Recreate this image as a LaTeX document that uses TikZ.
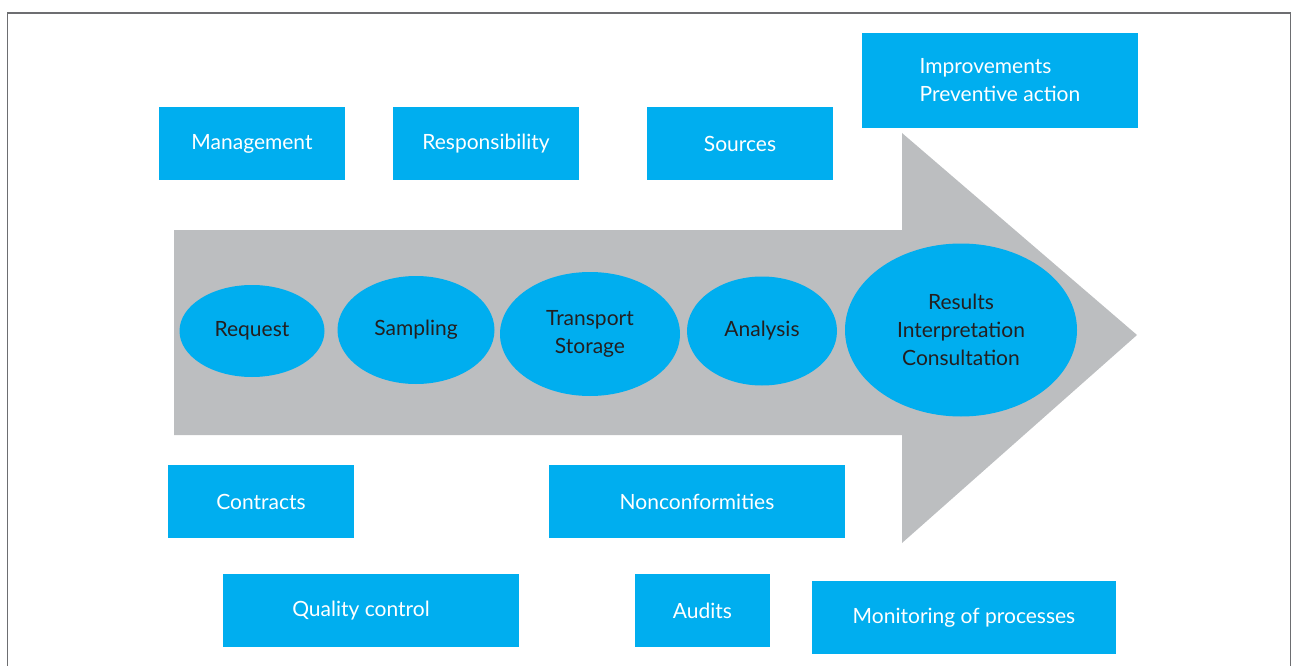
\documentclass[tikz,border=0pt]{standalone}
\usepackage{fontspec}
\setmainfont{Lato}
\usetikzlibrary{shapes.geometric}
\definecolor{boxblue}{HTML}{00AEEF}
\definecolor{arrowgray}{HTML}{BCBEC0}
\definecolor{framegray}{HTML}{6D6E71}
\definecolor{inkdark}{HTML}{231F20}
\tikzset{
  topic/.style={rectangle, fill=boxblue, text=white, inner sep=0pt, align=left,
    font=\fontsize{21}{28}\selectfont},
  stage/.style={ellipse, fill=boxblue, text=inkdark, inner sep=0pt, align=center,
    font=\fontsize{21}{28}\selectfont},
}
\begin{document}
\begin{tikzpicture}[x=1pt,y=-1pt]
      \useasboundingbox (0,0) rectangle (1294,666);
      \draw[framegray, line width=1.5pt] (7.5,666)--(7.5,13)--(1290.5,13)--(1290.5,666);

      % the process arrow
      \fill[arrowgray] (174,230)--(902,230)--(902,133)--(1137,335)--(902,543)--(902,435)--(174,435)--cycle;

      % stages along the arrow
      \node[stage, minimum width=145, minimum height=92] (request) at (252,331) {Request};
      \node[stage, minimum width=157, minimum height=108] (sampling) at (416,330) {Sampling};
      \node[stage, minimum width=180, minimum height=124] (transport) at (590,334) {Transport\\Storage};
      \node[stage, minimum width=150, minimum height=109] (analysis) at (762,331) {Analysis};
      \node[stage, minimum width=232, minimum height=173] (results) at (961,330) {Results\\Interpretation\\Consultation};

      % boxes above
      \node[topic, minimum width=186, minimum height=73] (management) at (252,143.5) {Management};
      \node[topic, minimum width=186, minimum height=73] (responsibility) at (486,143.5) {Responsibility};
      \node[topic, minimum width=186, minimum height=73] (sources) at (740,143.5) {Sources};
      \node[topic, minimum width=276, minimum height=95] (improvements) at (1000,80.5) {Improvements\\Preventive action};

      % boxes below
      \node[topic, minimum width=186, minimum height=73] (contracts) at (261,501.5) {Contracts};
      \node[topic, minimum width=296, minimum height=73] (nonconformities) at (697,501.5) {Nonconformities};
      \node[topic, minimum width=296, minimum height=73] (quality) at (371,610.5) {Quality control\hspace*{20pt}};
      \node[topic, minimum width=135, minimum height=73] (audits) at (702.5,610.5) {Audits};
      \node[topic, minimum width=304, minimum height=73] (monitoring) at (964,617.5) {Monitoring of processes};
    \end{tikzpicture}
\end{document}
